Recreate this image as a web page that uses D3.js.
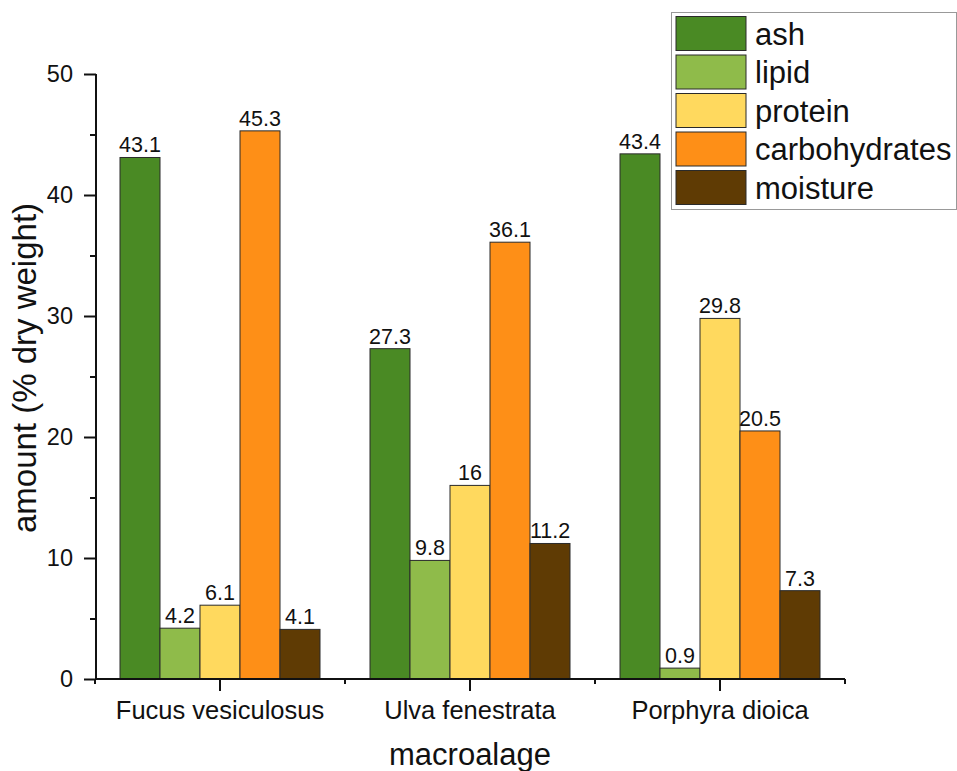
<!DOCTYPE html>
<html>
<head>
<meta charset="utf-8">
<script src="https://cdn.jsdelivr.net/npm/d3@7"></script>
<style>
  html, body { margin: 0; padding: 0; background: #fff; }
  svg { display: block; font-family: "Liberation Sans", Arial, sans-serif; }
</style>
</head>
<body>
<svg id="chart" width="957" height="771"></svg>
<script>
// ---- data ----
const categories = ["Fucus vesiculosus", "Ulva fenestrata", "Porphyra dioica"];
const seriesNames = ["ash", "lipid", "protein", "carbohydrates", "moisture"];
const ash = [43.1, 27.3, 43.4];
const lipid = [4.2, 9.8, 0.9];
const protein = [6.1, 16, 29.8];
const carbohydrates = [45.3, 36.1, 20.5];
const moisture = [4.1, 11.2, 7.3];
const seriesColors = ["#4a8a24", "#8fbb4a", "#ffd95e", "#fe8f17", "#5f3b04"];
const yTicks = [0, 10, 20, 30, 40, 50];
const yMinorTicks = [5, 15, 25, 35, 45];
const xTitle = "macroalage";
const yTitle = "amount (% dry weight)";

const seriesValues = [ash, lipid, protein, carbohydrates, moisture];

const svg = d3.select("#chart");

const x = d3.scaleBand().domain(categories).range([95, 845])
  .paddingInner(0.2).paddingOuter(0.1);
const xs = d3.scaleBand().domain(seriesNames).range([0, x.bandwidth()]);
const y = d3.scaleLinear().domain([0, 50]).range([679, 74]);

// bars
const rows = [];
categories.forEach((c, ci) => {
  seriesNames.forEach((s, si) => {
    rows.push({ cat: c, ser: s, val: seriesValues[si][ci], color: seriesColors[si] });
  });
});

const bars = svg.append("g");
bars.selectAll("rect").data(rows).join("rect")
  .attr("x", d => x(d.cat) + xs(d.ser))
  .attr("y", d => y(d.val))
  .attr("width", xs.bandwidth())
  .attr("height", d => y(0) - y(d.val))
  .attr("fill", d => d.color)
  .attr("stroke", "#2a2a2a")
  .attr("stroke-width", 1);

bars.selectAll("text").data(rows).join("text")
  .attr("x", d => x(d.cat) + xs(d.ser) + xs.bandwidth() / 2)
  .attr("y", d => y(d.val) - 5)
  .attr("text-anchor", "middle")
  .attr("font-size", 21.5)
  .attr("fill", "#111")
  .text(d => String(d.val));

// y axis
const yAxis = svg.append("g").attr("transform", "translate(96,0)")
  .call(d3.axisLeft(y).tickValues(yTicks).tickSize(12).tickPadding(11).tickFormat(d3.format("d")));
yAxis.select(".domain").attr("stroke", "#111").attr("stroke-width", 2).attr("d", `M0,${y(50)}V${y(0)}`);
yAxis.selectAll(".tick line").attr("stroke", "#111").attr("stroke-width", 2);
yAxis.selectAll(".tick text").attr("font-size", 23.5).attr("fill", "#111")
  .attr("font-family", "Liberation Sans, Arial, sans-serif");

const yMinor = svg.append("g").attr("transform", "translate(96,0)")
  .call(d3.axisLeft(y).tickValues(yMinorTicks).tickSize(6).tickFormat(""));
yMinor.select(".domain").remove();
yMinor.selectAll(".tick line").attr("stroke", "#111").attr("stroke-width", 2);

// x axis
const xAxis = svg.append("g").attr("transform", `translate(0,${y(0)})`)
  .call(d3.axisBottom(x).tickSize(12).tickPadding(10));
xAxis.select(".domain").attr("stroke", "#111").attr("stroke-width", 2)
  .attr("d", `M${x.range()[0]},0H${x.range()[1]}`);
xAxis.selectAll(".tick line").attr("stroke", "#111").attr("stroke-width", 2);
xAxis.selectAll(".tick text").attr("font-size", 25.5).attr("fill", "#111")
  .attr("font-family", "Liberation Sans, Arial, sans-serif");

const boundaries = d3.range(categories.length + 1).map(i => x.range()[0] + i * x.step());
xAxis.selectAll(".minor").data(boundaries).join("line")
  .attr("class", "minor")
  .attr("x1", d => d).attr("x2", d => d)
  .attr("y1", 0).attr("y2", 5)
  .attr("stroke", "#111").attr("stroke-width", 2);

// titles
svg.append("text")
  .attr("x", 470).attr("y", 765)
  .attr("text-anchor", "middle")
  .attr("font-size", 31).attr("fill", "#111")
  .text(xTitle);

svg.append("text")
  .attr("transform", "translate(36,368) rotate(-90)")
  .attr("text-anchor", "middle")
  .attr("font-size", 33).attr("fill", "#111")
  .text(yTitle);

// legend
const legend = svg.append("g");
legend.append("rect")
  .attr("x", 671.5).attr("y", 12.5).attr("width", 285).attr("height", 197)
  .attr("fill", "#fff").attr("stroke", "#999").attr("stroke-width", 1);
const li = legend.selectAll("g.item").data(seriesNames).join("g")
  .attr("class", "item")
  .attr("transform", (d, i) => `translate(676,${16.5 + i * 38.5})`);
li.append("rect")
  .attr("width", 70).attr("height", 34)
  .attr("fill", (d, i) => seriesColors[i])
  .attr("stroke", "#2a2a2a").attr("stroke-width", 1);
li.append("text")
  .attr("x", 79).attr("y", 28)
  .attr("font-size", 31).attr("fill", "#111")
  .text(d => d);
</script>
</body>
</html>
